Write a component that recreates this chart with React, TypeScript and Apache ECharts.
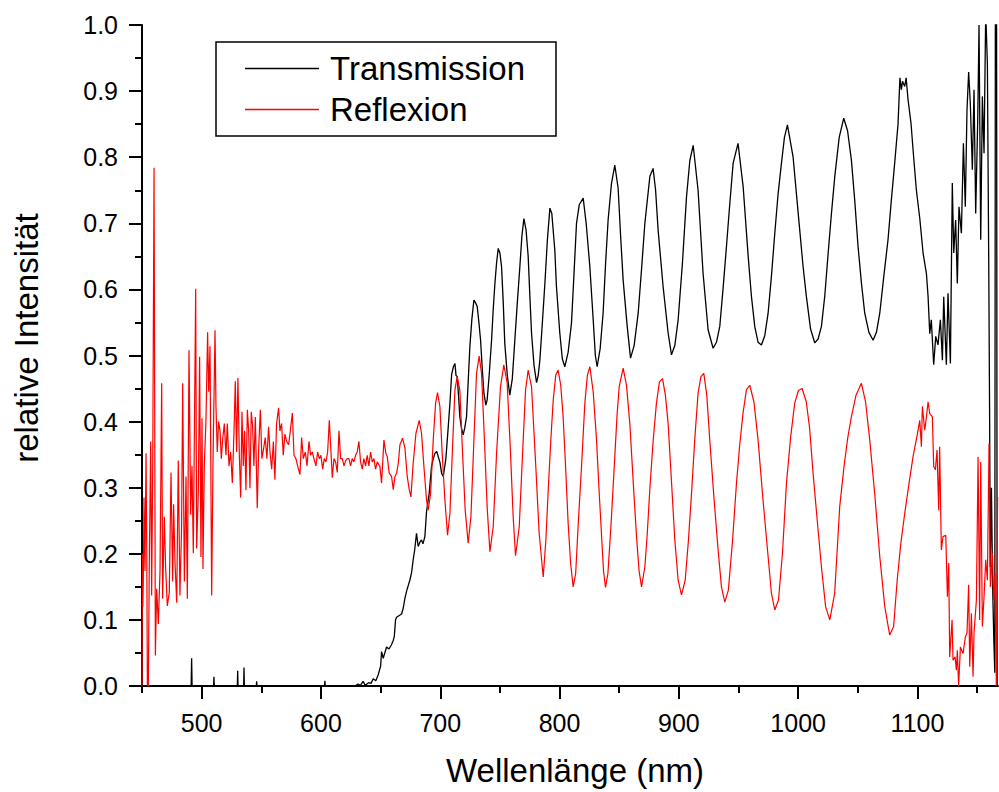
import React, { useEffect, useRef } from "react";
import * as echarts from "echarts";

const FONT = "'Liberation Sans', Arial, Helvetica, sans-serif";

const xMajorTicks = [500, 600, 700, 800, 900, 1000, 1100];
const xMinorTicks = [450, 550, 650, 750, 850, 950, 1050, 1150];
const xRange = [450, 1167.5];
const yRange = [0, 1];

const seriesNames = ["Transmission", "Reflexion"];
const xTitle = "Wellenlänge (nm)";
const yTitle = "relative Intensität";

const transmission: [number, number][] = [
  [450, 0], [491.2, 0], [491.6, 0.042], [492, 0], [510, 0], [510.3, 0.014], [510.6, 0],
  [529.9, 0], [530.2, 0.023], [530.5, 0], [535.2, 0], [535.5, 0.028], [535.8, 0],
  [545.8, 0], [546.1, 0.007], [546.4, 0], [603, 0], [603.3, 0.008], [603.6, 0],
  [628.5, 0], [631, 0.003], [633, 0.001], [635.4, 0.007], [637, 0.001], [640, 0.005],
  [642, 0.004], [643.8, 0.011], [646, 0.008], [648, 0.017], [650, 0.03], [650.8, 0.052],
  [652.2, 0.042], [653.5, 0.05], [655, 0.059], [657, 0.056], [659, 0.062], [660.6, 0.069],
  [661.5, 0.075], [662.5, 0.1], [663.4, 0.104], [665, 0.106], [667.6, 0.109], [669, 0.118],
  [670.4, 0.133], [672, 0.145], [674.5, 0.16], [676, 0.172], [677.3, 0.191], [678.5, 0.205],
  [680.1, 0.231], [681.5, 0.211], [683, 0.218], [684.3, 0.221], [685.5, 0.215], [687.1, 0.226],
  [688.5, 0.264], [690.7, 0.291], [692.7, 0.332], [694, 0.343], [695.5, 0.352], [697, 0.355],
  [698.3, 0.347], [699.8, 0.338], [701.1, 0.322], [702.5, 0.317], [703.6, 0.33], [704.7, 0.344],
  [706.7, 0.392], [708.2, 0.43], [709.5, 0.471], [711, 0.483], [712.3, 0.488], [713.2, 0.47],
  [714.2, 0.468], [715.3, 0.44], [716.4, 0.407], [717.8, 0.39], [719.2, 0.38], [720.5, 0.39],
  [722, 0.407], [723.4, 0.46], [724.8, 0.513], [726.5, 0.555], [728.2, 0.584], [729.5, 0.58],
  [731, 0.574], [732.4, 0.55], [733.8, 0.523], [735.2, 0.48], [736.6, 0.443], [738.2, 0.425],
  [739.3, 0.433], [741, 0.47], [743, 0.523], [744.4, 0.57], [745.8, 0.609], [747.2, 0.64],
  [748.6, 0.662], [750, 0.655], [751.4, 0.634], [752.8, 0.58], [754.1, 0.518], [756.2, 0.47],
  [758.3, 0.44], [760.4, 0.465], [762.5, 0.523], [764.6, 0.58], [766.7, 0.634], [768.4, 0.68],
  [770.1, 0.707], [771.9, 0.69], [773.7, 0.65], [775.1, 0.59], [776.5, 0.534], [778.6, 0.485],
  [780.7, 0.459], [782.1, 0.47], [783.5, 0.493], [785.6, 0.55], [787.7, 0.609], [789.8, 0.675],
  [791.9, 0.723], [793.5, 0.715], [796, 0.66], [797.4, 0.604], [800.2, 0.534], [802.3, 0.495],
  [804.4, 0.483], [807.2, 0.505], [810, 0.549], [812, 0.62], [814.2, 0.7], [816.5, 0.728],
  [819.8, 0.738], [822.3, 0.7], [825.4, 0.634], [828.2, 0.554], [830, 0.5], [831.5, 0.483],
  [834, 0.51], [836.5, 0.564], [838.6, 0.64], [840.7, 0.705], [843.5, 0.76], [846.3, 0.788],
  [849.1, 0.753], [851.2, 0.68], [853.3, 0.614], [856.7, 0.544], [859.5, 0.496], [862.5, 0.515],
  [865.9, 0.564], [868.7, 0.63], [871.5, 0.7], [875.7, 0.771], [878.4, 0.783], [880.5, 0.75],
  [882.6, 0.69], [886.8, 0.604], [891, 0.534], [893.8, 0.501], [896.6, 0.515], [899.4, 0.554],
  [903, 0.64], [906.4, 0.74], [909.2, 0.795], [912, 0.818], [916.1, 0.75], [920.3, 0.624],
  [924.5, 0.539], [928.7, 0.511], [931.5, 0.52], [934.3, 0.544], [937, 0.6], [939.9, 0.665],
  [942.7, 0.73], [945.5, 0.791], [949.6, 0.821], [953.9, 0.755], [958.1, 0.65], [960.8, 0.59],
  [963.6, 0.544], [966.4, 0.52], [969.2, 0.516], [972, 0.53], [974.8, 0.564], [977.6, 0.62],
  [980.4, 0.685], [983.2, 0.745], [986, 0.791], [988.5, 0.83], [991, 0.849], [995.7, 0.801],
  [1001.3, 0.69], [1004.1, 0.635], [1006.9, 0.589], [1010.4, 0.54], [1013.9, 0.519], [1016.7, 0.525],
  [1019.5, 0.544], [1022.3, 0.59], [1025.1, 0.654], [1027.9, 0.715], [1030.7, 0.771], [1034.4, 0.83],
  [1038.2, 0.859], [1041.4, 0.84], [1044.6, 0.796], [1047.4, 0.735], [1050.2, 0.665], [1053, 0.61],
  [1055.8, 0.564], [1059.3, 0.535], [1062.8, 0.523], [1065.6, 0.535], [1068.4, 0.564], [1071.8, 0.62],
  [1075.3, 0.675], [1078.1, 0.735], [1080.9, 0.791], [1083.7, 0.85], [1085.3, 0.92], [1086.5, 0.902],
  [1087.5, 0.915], [1089.3, 0.907], [1090.5, 0.92], [1092.1, 0.887], [1094.6, 0.851], [1096.8, 0.8],
  [1099.1, 0.75], [1101.9, 0.708], [1104.7, 0.655], [1107.5, 0.624], [1108.9, 0.589], [1110.3, 0.533],
  [1111.6, 0.554], [1113.6, 0.486], [1115.3, 0.529], [1117.2, 0.516], [1119.2, 0.554], [1120.9, 0.493],
  [1122, 0.589], [1124.2, 0.486], [1125.6, 0.594], [1127.6, 0.488], [1129.2, 0.761], [1130.4, 0.655],
  [1132, 0.705], [1133.4, 0.609], [1134.8, 0.725], [1136.8, 0.685], [1138.5, 0.821], [1140.1, 0.725],
  [1141.5, 0.871], [1142.9, 0.929], [1144.3, 0.881], [1146, 0.781], [1147.4, 0.902], [1148.8, 0.715],
  [1150.5, 0.856], [1151.6, 1.0], [1153, 0.675], [1154.4, 0.892], [1155.8, 0.806], [1157.2, 1.02],
  [1158.6, 0.942], [1159.7, 0.65], [1160.5, 0.4], [1161, 0.18], [1162, 0.3], [1163, 0.15],
  [1164, 0.07], [1164.8, 0.02], [1165.3, 1.05], [1166.3, 1.05], [1166.8, 0], [1167.5, 0],
];

const reflexion: [number, number][] = [
  [450, 0], [450.3, 0.2], [450.7, 0.12], [451.1, 0.158], [451.7, 0.285], [452.5, 0.174],
  [453.4, 0.352], [454, 0.2], [454.5, 0], [455.3, 0], [456.2, 0.2], [457.3, 0.37], [458.1, 0.137],
  [459, 0.333], [460.1, 0.784], [461.2, 0.046], [462.3, 0.147], [463.7, 0.094], [465.1, 0.174],
  [466.5, 0.458], [467.3, 0.132], [468.7, 0.256], [469.8, 0.179], [471.2, 0.121], [472.9, 0.142],
  [474.3, 0.323], [475.7, 0.158], [476.5, 0.275], [477.7, 0.185], [479.1, 0.126], [480.4, 0.341],
  [481.8, 0.137], [483.2, 0.243], [484.1, 0.458], [485.5, 0.158], [486.9, 0.317], [488, 0.132],
  [489.4, 0.508], [490.8, 0.259], [491.9, 0.333], [493, 0.201], [495, 0.601], [495.8, 0.208],
  [497.2, 0.293], [498.3, 0.498], [499.4, 0.195], [500.3, 0.405], [501.1, 0.177], [502.2, 0.333],
  [503.6, 0.4], [505, 0.535], [505.9, 0.445], [507, 0.514], [508.4, 0.137], [509.5, 0.339],
  [511.2, 0.538], [512, 0.423], [513.1, 0.354], [514.2, 0.4], [515.4, 0.386], [516.5, 0.344],
  [517.6, 0.373], [519, 0.397], [520.4, 0.349], [521.5, 0.397], [522.9, 0.333], [524.3, 0.354],
  [525.7, 0.307], [527.1, 0.384], [528.2, 0.461], [529.3, 0.354], [530.4, 0.466], [531.6, 0.349],
  [532.7, 0.285], [533.8, 0.415], [534.9, 0.333], [536, 0.386], [537.1, 0.296], [538.3, 0.418],
  [539.4, 0.386], [540.5, 0.299], [541.6, 0.415], [542.7, 0.394], [543.8, 0.333], [545, 0.407],
  [546.6, 0.269], [547.8, 0.36], [549.2, 0.418], [550.5, 0.344], [552, 0.36], [553.3, 0.376],
  [554.7, 0.344], [556.1, 0.392], [557.3, 0.354], [558.7, 0.328], [560.1, 0.37], [561.4, 0.312],
  [562.8, 0.397], [564.5, 0.421], [565.6, 0.386], [567, 0.397], [568.4, 0.349], [569.8, 0.381],
  [571.2, 0.37], [572.9, 0.365], [574.3, 0.386], [576, 0.413], [577.4, 0.349], [579, 0.344],
  [580.7, 0.331], [582.4, 0.32], [583.8, 0.376], [585.2, 0.344], [586.9, 0.354], [588.3, 0.333],
  [590, 0.37], [591.3, 0.349], [592.7, 0.354], [594.1, 0.344], [595.8, 0.333], [597.2, 0.354],
  [598.6, 0.344], [600, 0.349], [601.4, 0.328], [602.8, 0.344], [604.2, 0.339], [605.6, 0.354],
  [607, 0.402], [608.4, 0.354], [609.5, 0.315], [610.9, 0.344], [612.3, 0.339], [613.7, 0.323],
  [615.1, 0.386], [616.5, 0.344], [617.9, 0.344], [619.3, 0.333], [620.7, 0.341], [622.1, 0.344],
  [623.4, 0.344], [624.8, 0.333], [626.2, 0.344], [627.6, 0.339], [629, 0.349], [630.4, 0.354],
  [631.8, 0.37], [633.2, 0.339], [634.6, 0.328], [636, 0.344], [637.4, 0.333], [638.8, 0.349],
  [640.2, 0.333], [641.6, 0.354], [643, 0.339], [644.4, 0.344], [645.8, 0.328], [647.2, 0.339],
  [649.4, 0.332], [650.8, 0.307], [652.8, 0.372], [654.4, 0.352], [655.6, 0.347], [657.2, 0.322],
  [659.2, 0.317], [660.6, 0.297], [662, 0.317], [663.4, 0.322], [664.8, 0.337], [666.2, 0.365],
  [668.4, 0.375], [670.4, 0.36], [672.3, 0.317], [674, 0.297], [675.4, 0.286], [677.3, 0.337],
  [679.6, 0.382], [682.4, 0.402], [684.3, 0.382], [686.3, 0.332], [688.5, 0.281], [689.9, 0.266],
  [691.9, 0.291], [694.1, 0.372], [696.1, 0.428], [697.7, 0.444], [699.7, 0.423], [701.6, 0.352],
  [703.9, 0.281], [706.1, 0.228], [708.1, 0.261], [710.3, 0.362], [712.3, 0.448], [714.2, 0.468],
  [716.4, 0.448], [718.7, 0.352], [720.9, 0.266], [723.4, 0.216], [725.7, 0.256], [728.2, 0.372],
  [730.4, 0.473], [732.6, 0.499], [734.6, 0.473], [736.8, 0.382], [739.3, 0.271], [741.6, 0.203],
  [744.4, 0.241], [747.2, 0.352], [750.5, 0.453], [753.3, 0.486], [756.1, 0.458], [758.9, 0.352],
  [761.1, 0.256], [763.1, 0.197], [766.2, 0.241], [769, 0.352], [771.5, 0.448], [773.7, 0.478],
  [776.5, 0.453], [779.8, 0.342], [782.9, 0.231], [786.3, 0.165], [788.5, 0.22], [790.5, 0.296],
  [792.6, 0.37], [794.7, 0.433], [796.8, 0.47], [798.8, 0.478], [801, 0.455], [803, 0.407],
  [805.1, 0.33], [807.2, 0.246], [809.3, 0.185], [811.4, 0.15], [813.5, 0.17], [815.5, 0.24],
  [818.4, 0.332], [821.2, 0.428], [823.3, 0.47], [825.4, 0.483], [828.2, 0.445], [831, 0.372],
  [833, 0.3], [835.1, 0.231], [836.8, 0.175], [838.5, 0.149], [840.5, 0.17], [843, 0.24],
  [846.3, 0.347], [848.2, 0.41], [850, 0.453], [853.3, 0.481], [856.1, 0.455], [858.9, 0.397],
  [861.7, 0.31], [864.5, 0.226], [866.6, 0.175], [868.7, 0.15], [871.5, 0.18], [873.5, 0.23],
  [875.6, 0.296], [878.4, 0.37], [881.2, 0.428], [883.7, 0.46], [886.3, 0.465], [888.7, 0.44],
  [891, 0.397], [893.8, 0.31], [896.6, 0.221], [899.4, 0.16], [902.2, 0.138], [905.3, 0.16],
  [908, 0.22], [910.6, 0.291], [913.4, 0.375], [916.1, 0.443], [918.5, 0.468], [920.9, 0.473],
  [923.4, 0.44], [925.9, 0.372], [929.4, 0.285], [932.9, 0.206], [935.7, 0.15], [938.5, 0.127],
  [941.5, 0.145], [945, 0.22], [948.3, 0.307], [951, 0.365], [953.8, 0.413], [956.6, 0.448],
  [959.4, 0.455], [962.9, 0.43], [966.4, 0.372], [970.6, 0.28], [974.8, 0.196], [977.6, 0.14],
  [980.4, 0.115], [983.5, 0.13], [986.8, 0.2], [990.2, 0.307], [993.6, 0.375], [997.1, 0.428],
  [1000.2, 0.447], [1003.3, 0.45], [1006.8, 0.43], [1009.6, 0.39], [1012.5, 0.322], [1016, 0.25],
  [1019.5, 0.18], [1023, 0.12], [1026.5, 0.1], [1030.6, 0.14], [1034.8, 0.271], [1038.3, 0.33],
  [1041.5, 0.375], [1044.6, 0.407], [1048.5, 0.44], [1053, 0.458], [1056.5, 0.43], [1060, 0.372],
  [1064.2, 0.29], [1068.4, 0.196], [1072.6, 0.12], [1076.7, 0.077], [1080, 0.09], [1083, 0.16],
  [1086, 0.215], [1089.3, 0.261], [1092.8, 0.305], [1096.3, 0.347], [1099.8, 0.38], [1101.9, 0.402],
  [1103.3, 0.362], [1104.1, 0.423], [1106.1, 0.387], [1107.5, 0.407], [1108.9, 0.43], [1110.3, 0.412],
  [1112.5, 0.407], [1113.6, 0.332], [1115, 0.327], [1116.4, 0.357], [1117.8, 0.266], [1118.6, 0.362],
  [1120, 0.206], [1121.4, 0.226], [1123.7, 0.228], [1125.1, 0.135], [1126.2, 0.186], [1127, 0.044],
  [1129, 0.1], [1129.8, 0.039], [1131.5, 0.044], [1132.6, 0.024], [1133.4, 0.054], [1134.5, 0],
  [1136, 0.059], [1138.2, 0.049], [1140.1, 0.074], [1141.5, 0.08], [1142.9, 0.153], [1143.8, 0.029],
  [1145.2, 0.11], [1146.6, 0.014], [1147.4, 0.08], [1149.4, 0.13], [1150.8, 0.347], [1152.1, 0.1],
  [1153, 0.339], [1154.4, 0.09], [1155.8, 0.135], [1157.2, 0.191], [1158.6, 0.16], [1160, 0.367],
  [1161.1, 0.15], [1162.8, 0.201], [1163.9, 0.13], [1165, 0.17], [1166.1, 0], [1167.2, 0.286],
];

export default function App() {
  const ref = useRef<HTMLDivElement>(null);

  useEffect(() => {
    document.body.style.margin = "0";
    if (!ref.current) return;
    const chart = echarts.init(ref.current, null, { renderer: "svg" });
    const axisLine = { show: true, onZero: false, lineStyle: { color: "#000", width: 2 } };
    const labelStyle = { color: "#000", fontSize: 25, fontFamily: FONT };

    chart.setOption({
      animation: false,
      backgroundColor: "#fff",
      grid: { left: 142, right: 1, top: 25, bottom: 106, containLabel: false },
      legend: {
        data: seriesNames,
        orient: "vertical",
        left: 216,
        top: 42,
        padding: [10, 31, 10, 29],
        itemGap: 8,
        itemWidth: 74,
        itemHeight: 1.3,
        icon: "rect",
        borderColor: "#000",
        borderWidth: 1.5,
        borderRadius: 0,
        selectedMode: false,
        textStyle: {
          color: "#000",
          fontSize: 33,
          fontFamily: FONT,
          lineHeight: 32,
          padding: [0, 0, 0, 6],
        },
      },
      xAxis: [
        {
          type: "value",
          min: xRange[0],
          max: xRange[1],
          position: "bottom",
          axisLine,
          splitLine: { show: false },
          axisTick: {
            show: true,
            length: 13,
            lineStyle: { color: "#000", width: 2 },
            customValues: xMajorTicks,
          },
          axisLabel: {
            ...labelStyle,
            margin: 24,
            customValues: xMajorTicks,
            formatter: (v: number) => String(Math.round(v)),
          },
        },
        {
          type: "value",
          min: xRange[0],
          max: xRange[1],
          position: "bottom",
          axisLine: { show: false },
          splitLine: { show: false },
          axisTick: {
            show: true,
            length: 7,
            lineStyle: { color: "#000", width: 2 },
            customValues: xMinorTicks,
          },
          axisLabel: { show: false },
        },
      ],
      yAxis: {
        type: "value",
        min: yRange[0],
        max: yRange[1],
        interval: 0.1,
        axisLine,
        splitLine: { show: false },
        axisTick: { show: true, length: 13, lineStyle: { color: "#000", width: 2 } },
        minorTick: { show: true, splitNumber: 2, length: 7, lineStyle: { color: "#000", width: 2 } },
        minorSplitLine: { show: false },
        axisLabel: {
          ...labelStyle,
          margin: 24,
          formatter: (v: number) => v.toFixed(1),
        },
      },
      graphic: [
        {
          type: "text",
          x: 575,
          y: 770,
          style: {
            text: xTitle,
            fontSize: 33,
            fontFamily: FONT,
            fill: "#000",
            align: "center",
            verticalAlign: "middle",
            textAlign: "center",
            textVerticalAlign: "middle",
          },
        },
        {
          type: "text",
          x: 26,
          y: 338,
          rotation: Math.PI / 2,
          style: {
            text: yTitle,
            fontSize: 33,
            fontFamily: FONT,
            fill: "#000",
            align: "center",
            verticalAlign: "middle",
            textAlign: "center",
            textVerticalAlign: "middle",
          },
        },
      ],
      series: [
        {
          name: seriesNames[0],
          type: "line",
          xAxisIndex: 0,
          data: transmission,
          showSymbol: false,
          symbol: "none",
          clip: true,
          color: "#000000",
          lineStyle: { color: "#000000", width: 1.3 },
          emphasis: { disabled: true },
        },
        {
          name: seriesNames[1],
          type: "line",
          xAxisIndex: 0,
          data: reflexion,
          showSymbol: false,
          symbol: "none",
          clip: true,
          color: "#ff0000",
          lineStyle: { color: "#ff0000", width: 1.2 },
          emphasis: { disabled: true },
        },
      ],
    });

    return () => chart.dispose();
  }, []);

  return (
    <div
      ref={ref}
      style={{ position: "absolute", left: 0, top: 0, width: 999, height: 792 }}
    />
  );
}
